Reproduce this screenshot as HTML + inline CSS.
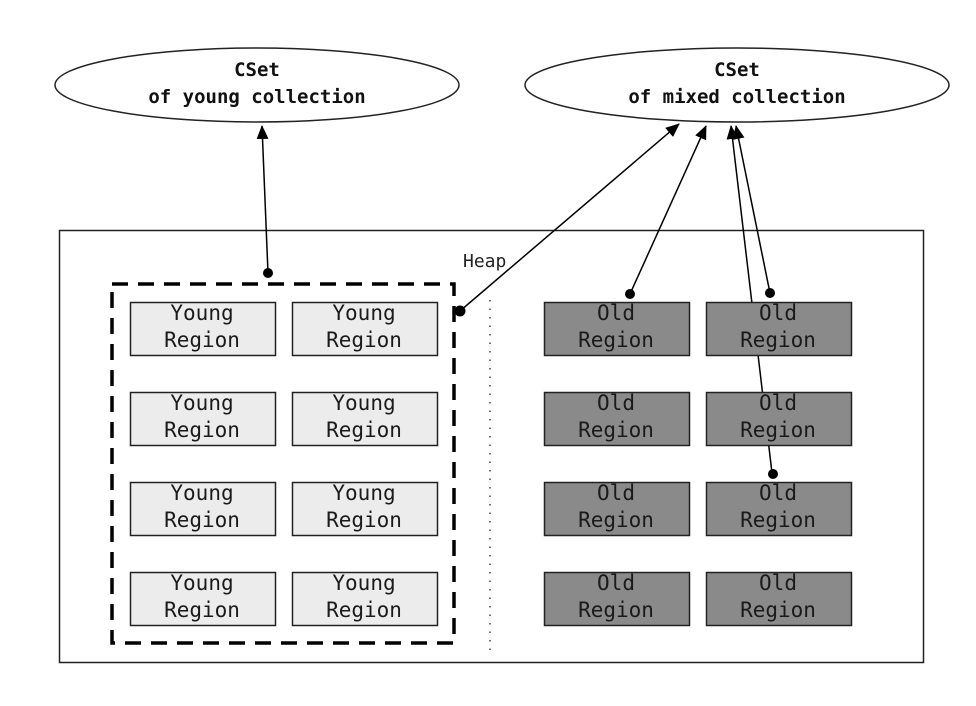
<!DOCTYPE html>
<html><head><meta charset="utf-8"><style>
html,body{margin:0;padding:0;background:#fff;}
svg{display:block;}
text{font-family:"DejaVu Sans Mono","Liberation Mono",monospace;}
</style></head><body>
<svg width="976" height="706" viewBox="0 0 976 706" xmlns="http://www.w3.org/2000/svg">
<defs>
<marker id="a" markerWidth="14" markerHeight="14" refX="13" refY="6" orient="auto" markerUnits="userSpaceOnUse"><path d="M0,0 L14,6 L0,12 z" fill="#000"/></marker>
</defs>
<rect width="976" height="706" fill="#fff"/>
<ellipse cx="257" cy="85" rx="202" ry="37" fill="#fff" stroke="#222" stroke-width="1.5"/>
<ellipse cx="737" cy="85" rx="212" ry="37" fill="#fff" stroke="#222" stroke-width="1.5"/>
<g font-size="19" font-weight="bold" fill="#111" text-anchor="middle">
<text x="257" y="76">CSet</text><text x="257" y="103">of young collection</text>
<text x="737" y="76">CSet</text><text x="737" y="103">of mixed collection</text>
</g>
<rect x="59.5" y="230.5" width="864" height="432" fill="none" stroke="#222" stroke-width="1.5"/>
<text x="463" y="267" font-size="18" fill="#222">Heap</text>
<line x1="490" y1="300" x2="490" y2="655" stroke="#444" stroke-width="1.5" stroke-dasharray="1.5,7"/>
<g stroke="#000" stroke-width="1.5" fill="none">
<line x1="268" y1="273" x2="262" y2="126" marker-end="url(#a)"/>
<line x1="460" y1="311" x2="679" y2="124" marker-end="url(#a)"/>
<line x1="630" y1="294" x2="706" y2="126" marker-end="url(#a)"/>
<line x1="772" y1="473" x2="731" y2="126" marker-end="url(#a)"/>
<line x1="770" y1="293" x2="736" y2="126" marker-end="url(#a)"/>
</g>
<rect x="112" y="284" width="342" height="359" fill="none" stroke="#000" stroke-width="3.5" stroke-dasharray="16,10"/>
<g stroke="#222" stroke-width="1.5">
<rect x="130.5" y="302.5" width="145" height="53" fill="#ececec"/>
<rect x="292.5" y="302.5" width="145" height="53" fill="#ececec"/>
<rect x="130.5" y="392.5" width="145" height="53" fill="#ececec"/>
<rect x="292.5" y="392.5" width="145" height="53" fill="#ececec"/>
<rect x="130.5" y="482.5" width="145" height="53" fill="#ececec"/>
<rect x="292.5" y="482.5" width="145" height="53" fill="#ececec"/>
<rect x="130.5" y="572.5" width="145" height="53" fill="#ececec"/>
<rect x="292.5" y="572.5" width="145" height="53" fill="#ececec"/>
<rect x="544.5" y="302.5" width="145" height="53" fill="#8a8a8a"/>
<rect x="706.5" y="302.5" width="145" height="53" fill="#8a8a8a"/>
<rect x="544.5" y="392.5" width="145" height="53" fill="#8a8a8a"/>
<rect x="706.5" y="392.5" width="145" height="53" fill="#8a8a8a"/>
<rect x="544.5" y="482.5" width="145" height="53" fill="#8a8a8a"/>
<rect x="706.5" y="482.5" width="145" height="53" fill="#8a8a8a"/>
<rect x="544.5" y="572.5" width="145" height="53" fill="#8a8a8a"/>
<rect x="706.5" y="572.5" width="145" height="53" fill="#8a8a8a"/>
</g>
<g font-size="21" fill="#1a1a1a" text-anchor="middle">
<text x="202" y="320">Young</text><text x="202" y="347">Region</text>
<text x="364" y="320">Young</text><text x="364" y="347">Region</text>
<text x="202" y="410">Young</text><text x="202" y="437">Region</text>
<text x="364" y="410">Young</text><text x="364" y="437">Region</text>
<text x="202" y="500">Young</text><text x="202" y="527">Region</text>
<text x="364" y="500">Young</text><text x="364" y="527">Region</text>
<text x="202" y="590">Young</text><text x="202" y="617">Region</text>
<text x="364" y="590">Young</text><text x="364" y="617">Region</text>
<text x="616" y="320">Old</text><text x="616" y="347">Region</text>
<text x="778" y="320">Old</text><text x="778" y="347">Region</text>
<text x="616" y="410">Old</text><text x="616" y="437">Region</text>
<text x="778" y="410">Old</text><text x="778" y="437">Region</text>
<text x="616" y="500">Old</text><text x="616" y="527">Region</text>
<text x="778" y="500">Old</text><text x="778" y="527">Region</text>
<text x="616" y="590">Old</text><text x="616" y="617">Region</text>
<text x="778" y="590">Old</text><text x="778" y="617">Region</text>
</g>
<g fill="#000">
<circle cx="268" cy="273" r="5"/>
<circle cx="460" cy="311" r="5.5"/>
<circle cx="630" cy="294" r="5"/>
<circle cx="770" cy="293" r="5"/>
<circle cx="773" cy="474" r="5"/>
</g>
</svg>
</body></html>
